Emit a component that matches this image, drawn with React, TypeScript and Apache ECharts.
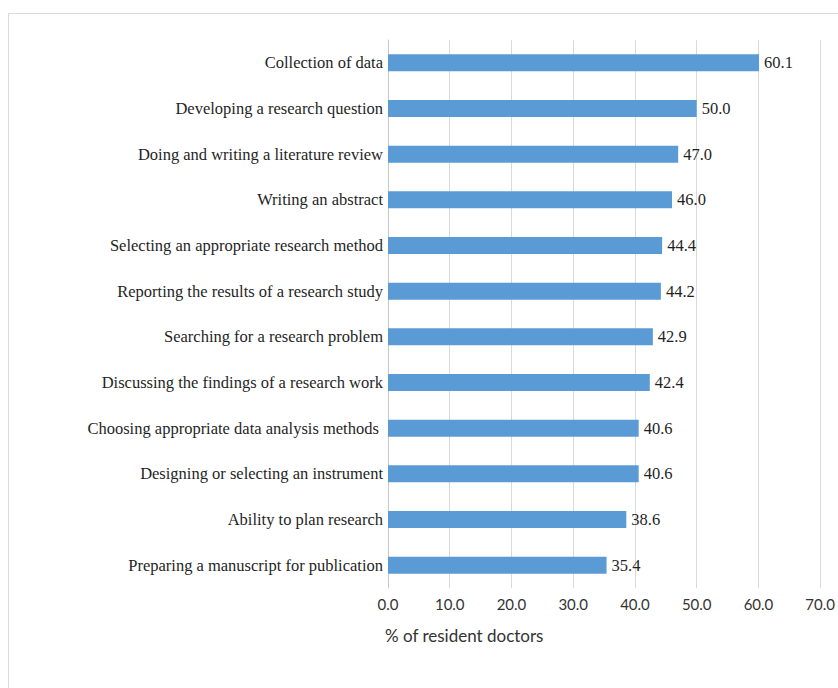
import React, { useEffect, useRef } from "react";
import * as echarts from "echarts";

const categories = [
  "Collection of data",
  "Developing a research question",
  "Doing and writing a literature review",
  "Writing an abstract",
  "Selecting an appropriate research method",
  "Reporting the results of a research study",
  "Searching for a research problem",
  "Discussing the findings of a research work",
  "Choosing appropriate data analysis methods ",
  "Designing or selecting an instrument",
  "Ability to plan research",
  "Preparing a manuscript for publication",
];
const values = [60.1, 50.0, 47.0, 46.0, 44.4, 44.2, 42.9, 42.4, 40.6, 40.6, 38.6, 35.4];
const axisTitle = "% of resident doctors";

export default function App() {
  const ref = useRef<HTMLDivElement>(null);
  useEffect(() => {
    document.body.style.margin = "0";
    const chart = echarts.init(ref.current!, null, { renderer: "svg" });
    chart.setOption({
      animation: false,
      backgroundColor: "#ffffff",
      grid: { left: 388, right: 11, top: 40, bottom: 100, containLabel: false },
      xAxis: {
        type: "value",
        min: 0,
        max: 70,
        interval: 10,
        axisLine: { show: false },
        axisTick: { show: false },
        splitLine: { show: true, lineStyle: { color: "#d9d9d9", width: 1 } },
        axisLabel: {
          formatter: (v: number) => v.toFixed(1),
          fontFamily: "Lato",
          fontSize: 15,
          color: "#333333",
          margin: 8,
        },
      },
      yAxis: {
        type: "category",
        data: categories.slice().reverse(),
        axisLine: { show: true, lineStyle: { color: "#c8c8c8", width: 1 } },
        axisTick: { show: false },
        axisLabel: {
          fontFamily: "Liberation Serif",
          fontSize: 16.5,
          color: "#1f1f1f",
          margin: 5,
        },
      },
      series: [
        {
          type: "bar",
          data: values.slice().reverse(),
          barWidth: 17,
          itemStyle: { color: "#5b9bd5" },
          label: {
            show: true,
            position: "right",
            distance: 5,
            formatter: (p: any) => Number(p.value).toFixed(1),
            fontFamily: "Liberation Serif",
            fontSize: 16.5,
            color: "#1f1f1f",
          },
        },
      ],
      graphic: [
        {
          type: "rect",
          shape: { x: 8.5, y: 13.5, width: 900, height: 800 },
          style: { fill: "none", stroke: "#d9d9d9", lineWidth: 1 },
          silent: true,
        },
        {
          type: "text",
          x: 385,
          y: 627,
          style: {
            text: axisTitle,
            fontFamily: "Lato",
            fontSize: 17,
            fill: "#333333",
          },
        },
      ],
    });
    return () => chart.dispose();
  }, []);
  return <div ref={ref} style={{ width: 838, height: 688 }} />;
}
